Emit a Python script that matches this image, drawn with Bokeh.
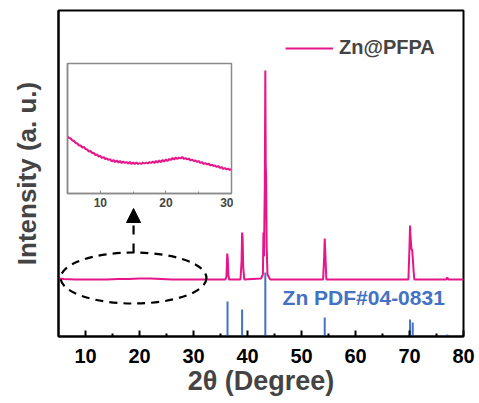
from bokeh.plotting import figure
from bokeh.models import (FixedTicker, Legend, LegendItem, Label, Arrow, NormalHead)
from bokeh.embed import file_html
from bokeh.resources import INLINE

FONT = "Liberation Sans"
PINK = "#E6168A"
BLUE = "#4472C4"

# ---------------- data ----------------
xrd_x = [5.0, 6, 8, 10, 12, 14, 16, 18, 20, 22, 24, 26, 28, 30, 32, 34,
         35.9, 36.1, 36.25, 36.35, 36.45, 36.6,
         38.7, 38.9, 39.0, 39.1, 39.2, 39.4,
         42.5, 42.85, 42.95, 43.05, 43.2, 43.3, 43.38, 43.45, 43.55, 43.7, 44.2,
         54.0, 54.2, 54.3, 54.4, 54.6,
         69.8, 70.0, 70.1, 70.2, 70.35, 70.5, 70.65, 70.75, 70.9,
         76.8, 77.0, 77.2, 80]
xrd_y = [58, 57.5, 57, 57, 57, 57, 57.5, 57.5, 58, 58, 57.5, 57, 57, 57, 57, 57,
         57, 60, 83, 78, 62, 57,
         57, 75, 104, 98, 70, 57,
         58, 62, 104, 80, 150, 266, 171, 160, 90, 62, 57,
         57, 80, 98, 85, 57,
         57, 90, 111, 100, 88, 86, 75, 66, 57,
         57, 59, 57, 57]

pdf_x = [36.3, 39.0, 43.3, 54.3, 70.1, 70.6, 77.0]
pdf_h = [35, 27, 64, 19, 17, 14, 2]

inset_x = [5.0, 5.25, 5.5, 5.75, 6.0, 6.25, 6.5, 6.75, 7.0, 7.25, 7.5, 7.75,
           8.0, 8.25, 8.5, 8.75, 9.0, 9.25, 9.5, 9.75, 10.0, 10.25, 10.5, 10.75,
           11.0, 11.25, 11.5, 11.75, 12.0, 12.25, 12.5, 12.75, 13.0, 13.25, 13.5, 13.75,
           14.0, 14.25, 14.5, 14.75, 15.0, 15.25, 15.5, 15.75, 16.0, 16.25, 16.5, 16.75,
           17.0, 17.25, 17.5, 17.75, 18.0, 18.25, 18.5, 18.75, 19.0, 19.25, 19.5, 19.75,
           20.0, 20.25, 20.5, 20.75, 21.0, 21.25, 21.5, 21.75, 22.0, 22.25, 22.5, 22.75,
           23.0, 23.25, 23.5, 23.75, 24.0, 24.25, 24.5, 24.75, 25.0, 25.25, 25.5, 25.75,
           26.0, 26.25, 26.5, 26.75, 27.0, 27.25, 27.5, 27.75, 28.0, 28.25, 28.5, 28.75,
           29.0, 29.25, 29.5, 29.75, 30.0]
inset_y = [57, 55.5, 55, 53, 52.5, 50.5, 50, 48, 48, 46, 46.5, 44.5,
           44, 42, 42.5, 40.5, 40.5, 38.5, 39, 37, 37.5, 35.5, 36.5, 34.5,
           35, 33.5, 34.5, 32, 33.5, 31.5, 33, 31, 32.5, 30.5, 32, 30.5,
           31.5, 30, 31.5, 29.5, 31, 29.5, 31, 29.5, 30.5, 29.5, 31, 30,
           31, 30, 31.5, 30.5, 32, 30.5, 32.5, 31, 33, 31.5, 33.5, 32,
           34, 32.5, 34.5, 33.5, 35.5, 34, 36, 34.5, 36, 35, 36.5, 34.5,
           35.5, 34, 35, 33, 34, 32.5, 33, 31.5, 32.5, 30.5, 31.5, 29.5,
           30.5, 29, 30, 28, 29, 27.5, 28, 26.5, 27.5, 25.5, 26.5, 24.5,
           25.5, 24, 25, 23.5, 24.5]

main_ticks = [10, 20, 30, 40, 50, 60, 70, 80]
main_minor = [15, 25, 35, 45, 55, 65, 75]
inset_ticks = [10, 20, 30]
inset_minor = [15, 25]

# ---------------- main figure ----------------
p = figure(width=478, height=400, x_range=(5, 80), y_range=(0, 326),
           output_backend="svg", toolbar_location=None,
           min_border_left=58, min_border_right=15, min_border_top=10, min_border_bottom=64)
p.grid.visible = False
p.outline_line_color = "black"
p.outline_line_width = 2
p.background_fill_color = "white"

xa = p.xaxis[0]
xa.ticker = FixedTicker(ticks=main_ticks, minor_ticks=main_minor)
xa.major_tick_in = 6
xa.major_tick_out = 0
xa.minor_tick_in = 3
xa.minor_tick_out = 0
xa.major_tick_line_width = 2
xa.minor_tick_line_width = 2
xa.axis_line_width = 2
xa.major_label_text_font = FONT
xa.major_label_text_font_style = "bold"
xa.major_label_text_font_size = "20px"
xa.major_label_text_color = "black"
xa.major_label_standoff = 12
xa.axis_label = "2θ (Degree)"
xa.axis_label_text_font = FONT
xa.axis_label_text_font_style = "bold"
xa.axis_label_text_font_size = "27px"
xa.axis_label_standoff = 0

ya = p.yaxis[0]
ya.ticker = FixedTicker(ticks=[])
ya.major_tick_in = 0
ya.major_tick_out = 0
ya.minor_tick_in = 0
ya.minor_tick_out = 0
ya.axis_line_width = 2
ya.axis_label = "Intensity (a. u.)"
ya.axis_label_text_font = FONT
ya.axis_label_text_font_style = "bold"
ya.axis_label_text_font_size = "26px"
ya.axis_label_standoff = 17

p.segment(x0=pdf_x, y0=[0] * len(pdf_x), x1=pdf_x, y1=pdf_h, line_color=BLUE, line_width=2)
r = p.line(xrd_x, xrd_y, line_color=PINK, line_width=2)

legend = Legend(items=[LegendItem(label="Zn@PFPA", renderers=[r])],
                location=(227, 277), padding=0, margin=0, spacing=0,
                glyph_width=48, glyph_height=20, label_standoff=6,
                label_text_font=FONT, label_text_font_style="bold",
                label_text_font_size="20px", border_line_color=None,
                background_fill_alpha=0)
p.add_layout(legend)

p.add_layout(Label(x=46.5, y=39, text="Zn PDF#04-0831", text_color=BLUE,
                   text_font=FONT, text_font_style="bold", text_font_size="21px",
                   text_baseline="middle"))

p.ellipse(x=[18.9], y=[58.5], width=[27], height=[51], fill_color=None,
          line_color="black", line_width=2.2, line_dash="8 6")
p.add_layout(Arrow(x_start=18.9, y_start=84, x_end=18.9, y_end=128,
                   line_color="black", line_width=2.2, line_dash="9 9",
                   end=NormalHead(size=14, fill_color="black", line_color="black")))

# ---------------- inset ----------------
ins = figure(width=168, height=153, x_range=(5, 30), y_range=(0, 130),
             output_backend="svg", toolbar_location=None,
             min_border_left=2, min_border_right=2, min_border_top=1, min_border_bottom=22,
             styles={"position": "absolute", "left": "65px", "top": "62px"})
ins.grid.visible = False
ins.background_fill_alpha = 0
ins.border_fill_alpha = 0
ins.outline_line_color = "#8a8a8a"
ins.outline_line_width = 1.5
ixa = ins.xaxis[0]
ixa.ticker = FixedTicker(ticks=inset_ticks, minor_ticks=inset_minor)
ixa.major_tick_in = 3
ixa.major_tick_out = 0
ixa.minor_tick_in = 2
ixa.minor_tick_out = 0
ixa.major_tick_line_color = "#8a8a8a"
ixa.minor_tick_line_color = "#8a8a8a"
ixa.axis_line_color = "#8a8a8a"
ixa.axis_line_width = 1.5
ixa.major_label_text_font = FONT
ixa.major_label_text_font_style = "bold"
ixa.major_label_text_font_size = "12px"
ixa.major_label_standoff = 4
iya = ins.yaxis[0]
iya.ticker = FixedTicker(ticks=[])
iya.major_tick_in = 0
iya.major_tick_out = 0
iya.minor_tick_in = 0
iya.minor_tick_out = 0
iya.axis_line_color = "#8a8a8a"
iya.axis_line_width = 1.5
ins.line(inset_x, inset_y, line_color=PINK, line_width=2)

open("out.html", "w").write(file_html([p, ins], INLINE))
